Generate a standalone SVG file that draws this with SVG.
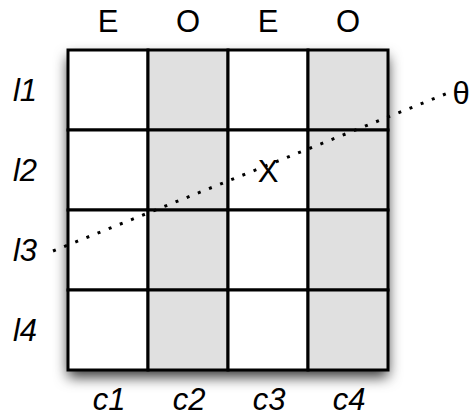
<svg xmlns="http://www.w3.org/2000/svg" width="471" height="416" viewBox="0 0 471 416">
<defs>
<style>
.lbl{font-family:"Liberation Sans",Arial,sans-serif;font-size:31px;fill:#000;text-anchor:middle}
.it{font-style:italic}
.cell{stroke:#000;stroke-width:3}
.w{fill:#fff}
.g{fill:#e0e0e0}
</style>
<filter id="sh" x="-15%" y="-15%" width="130%" height="135%">
<feDropShadow dx="0" dy="7" stdDeviation="7" flood-color="#000" flood-opacity="0.8"/>
</filter>
</defs>
<g id="grid">
<rect x="68" y="50" width="320" height="320" fill="#fff" filter="url(#sh)"/>
<g id="col1"><rect class="cell w" x="68" y="50" width="80" height="80"/><rect class="cell w" x="68" y="130" width="80" height="80"/><rect class="cell w" x="68" y="210" width="80" height="80"/><rect class="cell w" x="68" y="290" width="80" height="80"/></g>
<g id="col2"><rect class="cell g" x="148" y="50" width="80" height="80"/><rect class="cell g" x="148" y="130" width="80" height="80"/><rect class="cell g" x="148" y="210" width="80" height="80"/><rect class="cell g" x="148" y="290" width="80" height="80"/></g>
<g id="col3"><rect class="cell w" x="228" y="50" width="80" height="80"/><rect class="cell w" x="228" y="130" width="80" height="80"/><rect class="cell w" x="228" y="210" width="80" height="80"/><rect class="cell w" x="228" y="290" width="80" height="80"/></g>
<g id="col4"><rect class="cell g" x="308" y="50" width="80" height="80"/><rect class="cell g" x="308" y="130" width="80" height="80"/><rect class="cell g" x="308" y="210" width="80" height="80"/><rect class="cell g" x="308" y="290" width="80" height="80"/></g>
</g>
<g id="connectors">
<line x1="53" y1="251" x2="448" y2="93" stroke="#000" stroke-width="3" stroke-dasharray="3 9"/>
</g>
<g id="top-labels">
<text class="lbl" x="108" y="32">E</text>
<text class="lbl" x="188" y="32">O</text>
<text class="lbl" x="268" y="32">E</text>
<text class="lbl" x="348" y="32">O</text>
</g>
<g id="row-labels">
<text class="lbl it" x="25" y="101">l1</text>
<text class="lbl it" x="25" y="181">l2</text>
<text class="lbl it" x="25" y="261">l3</text>
<text class="lbl it" x="25" y="341">l4</text>
</g>
<g id="col-labels">
<text class="lbl it" x="109" y="410">c1</text>
<text class="lbl it" x="189" y="410">c2</text>
<text class="lbl it" x="269" y="410">c3</text>
<text class="lbl it" x="349" y="410">c4</text>
</g>
<g id="X"><text class="lbl" x="268" y="182">X</text></g>
<g id="theta"><text class="lbl" x="461" y="104">θ</text></g>
</svg>
